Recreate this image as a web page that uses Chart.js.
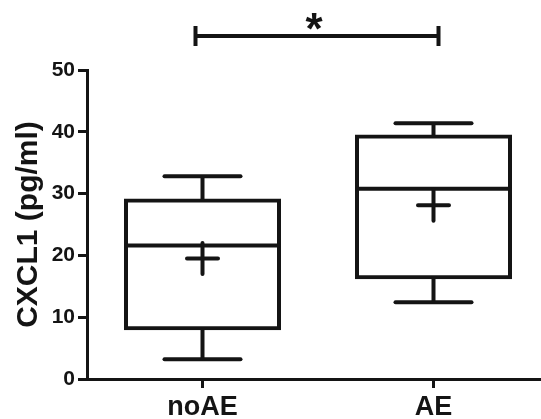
<!DOCTYPE html>
<html><head><meta charset="utf-8">
<script src="https://cdn.jsdelivr.net/npm/chart.js@4.4.1/dist/chart.umd.min.js"></script>
<style>
html,body{margin:0;padding:0;background:#fff;overflow:hidden;width:541px;height:419px}
#wrap{position:absolute;left:0;top:0;width:549px;height:419px}
</style></head><body>
<div id="wrap"><canvas id="c" width="549" height="419"></canvas></div>
<script>
// ---- data ----
const categories = ['noAE', 'AE'];
const whiskerMin = [3.2, 12.4];
const q1 = [8.2, 16.45];
const median = [21.6, 30.8];
const q3 = [28.9, 39.25];
const whiskerMax = [32.8, 41.4];
const mean = [19.5, 28.1];
const yTicks = [0, 10, 20, 30, 40, 50];
const sigLabel = '*';

const INK = '#141414';
const FONT = "'Liberation Sans', Arial, Helvetica, sans-serif";

const roundCapPlugin = {
  id: 'roundCaps',
  beforeDatasetsDraw(chart) { chart.ctx.lineCap = 'round'; },
  afterDatasetsDraw(chart) { chart.ctx.lineCap = 'butt'; }
};

const bracketPlugin = {
  id: 'bracket',
  afterDraw(chart) {
    const {ctx, scales: {x, y}} = chart;
    const x1 = x.getPixelForValue(0) - 7;
    const x2 = x.getPixelForValue(1) + 5;
    const yy = y.getPixelForValue(55.5);
    ctx.save();
    ctx.strokeStyle = INK;
    ctx.lineWidth = 4;
    ctx.lineCap = 'butt';
    ctx.beginPath();
    ctx.moveTo(x1, yy); ctx.lineTo(x2, yy);
    ctx.moveTo(x1, yy - 10); ctx.lineTo(x1, yy + 10);
    ctx.moveTo(x2, yy - 10); ctx.lineTo(x2, yy + 10);
    ctx.stroke();
    ctx.fillStyle = INK;
    ctx.font = "bold 44px " + FONT;
    ctx.textAlign = 'center';
    ctx.textBaseline = 'alphabetic';
    ctx.fillText(sigLabel, (x1 + x2) / 2 - 3, yy + 8);
    ctx.restore();
  }
};

const pointSet = (data, style, radius, order) => ({
  type: 'line', data, order, showLine: false,
  pointStyle: style, pointRadius: radius, pointHoverRadius: radius,
  pointBorderWidth: 4, pointBorderColor: INK, pointBackgroundColor: INK,
  borderColor: INK, borderWidth: 4, clip: false
});

new Chart(document.getElementById('c'), {
  type: 'bar',
  data: {
    labels: categories,
    datasets: [
      { // whisker stem
        data: whiskerMin.map((v, i) => [v, whiskerMax[i]]),
        order: 5, grouped: false, barThickness: 4,
        backgroundColor: INK, borderWidth: 0, inflateAmount: 0
      },
      { // box
        data: q1.map((v, i) => [v, q3[i]]),
        order: 4, grouped: false, barThickness: 153,
        backgroundColor: '#ffffff', borderColor: INK, borderWidth: 4,
        borderSkipped: false, inflateAmount: 2
      },
      pointSet(whiskerMax, 'line', 38, 3),
      pointSet(whiskerMin, 'line', 38, 3),
      pointSet(median, 'line', 76, 2),
      pointSet(mean, 'cross', 15.5, 1)
    ]
  },
  options: {
    responsive: false,
    animation: false,
    devicePixelRatio: 1,
    layout: {autoPadding: false, padding: {top: 70, left: 0, right: 0, bottom: 0}},
    plugins: {legend: {display: false}, tooltip: {enabled: false}},
    scales: {
      x: {
        type: 'category', offset: true,
        grid: {offset: false, drawOnChartArea: false, drawTicks: true, tickLength: 9, lineWidth: 3, color: INK},
        border: {display: true, width: 3, color: INK},
        ticks: {color: INK, padding: 3, font: {family: FONT, size: 27, weight: 'bold'}},
        afterFit: s => { s.height = 40; }
      },
      y: {
        min: 0, max: 50,
        afterBuildTicks: s => { s.ticks = yTicks.map(v => ({value: v})); },
        grid: {drawOnChartArea: false, drawTicks: true, tickLength: 9, lineWidth: 3, color: INK},
        border: {display: true, width: 3, color: INK},
        ticks: {color: INK, padding: 3, font: {family: FONT, size: 21, weight: 'bold'}},
        title: {display: true, text: 'CXCL1 (pg/ml)', color: INK, padding: {top: 11, bottom: 0},
                font: {family: FONT, size: 30, weight: 'bold'}},
        afterFit: s => { s.width = 87; }
      }
    }
  },
  plugins: [roundCapPlugin, bracketPlugin]
});
</script>
</body></html>
